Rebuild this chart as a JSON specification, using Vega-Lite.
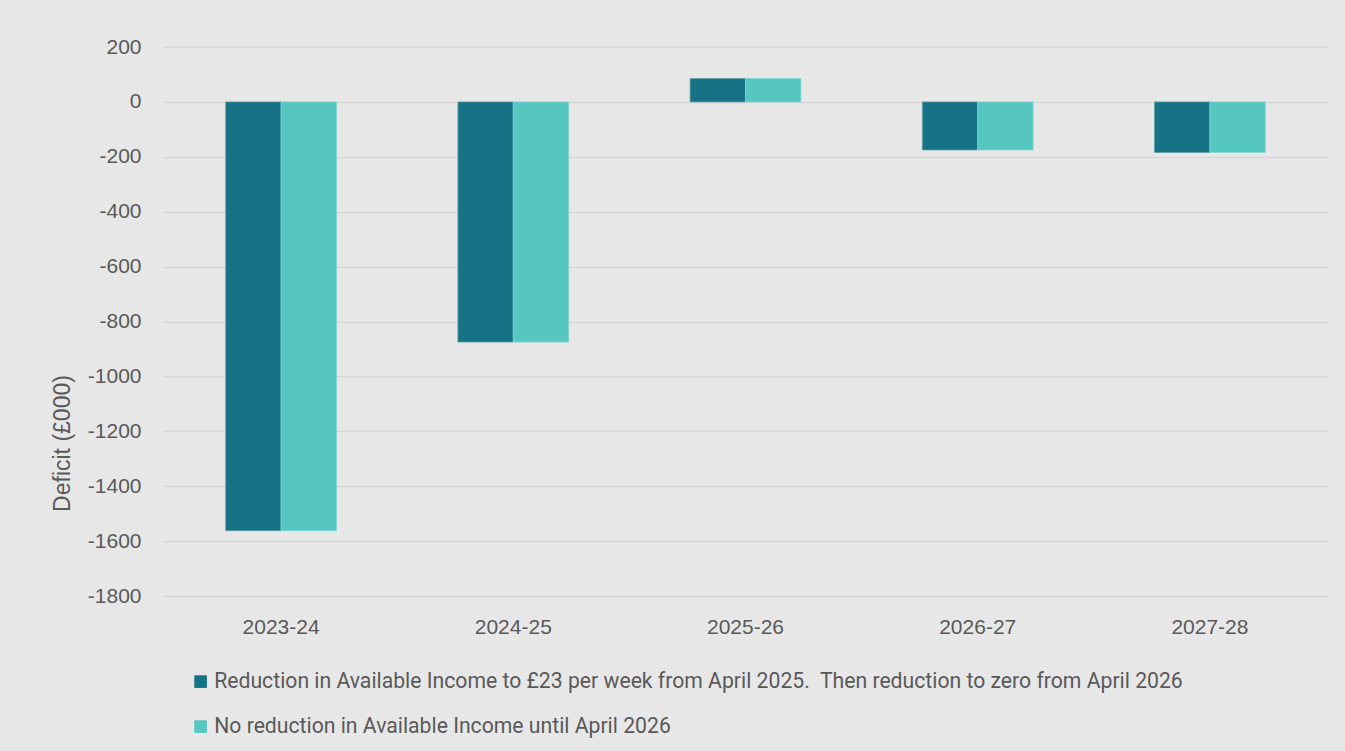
{
  "$schema": "https://vega.github.io/schema/vega-lite/v6.json",
  "width": 1165,
  "height": 549,
  "autosize": {"type": "none"},
  "padding": {"left": 163, "top": 47, "right": 17, "bottom": 155},
  "background": "#e7e7e7",
  "config": {
    "view": {"stroke": null},
    "font": "Liberation Sans"
  },
  "data": {
    "values": [
      {"year": "2023-24", "scenario": "Reduction in Available Income to £23 per week from April 2025.\u00a0 Then reduction to zero from April 2026", "deficit": -1562},
      {"year": "2023-24", "scenario": "No reduction in Available Income until April 2026", "deficit": -1562},
      {"year": "2024-25", "scenario": "Reduction in Available Income to £23 per week from April 2025.\u00a0 Then reduction to zero from April 2026", "deficit": -875},
      {"year": "2024-25", "scenario": "No reduction in Available Income until April 2026", "deficit": -875},
      {"year": "2025-26", "scenario": "Reduction in Available Income to £23 per week from April 2025.\u00a0 Then reduction to zero from April 2026", "deficit": 85},
      {"year": "2025-26", "scenario": "No reduction in Available Income until April 2026", "deficit": 85},
      {"year": "2026-27", "scenario": "Reduction in Available Income to £23 per week from April 2025.\u00a0 Then reduction to zero from April 2026", "deficit": -175},
      {"year": "2026-27", "scenario": "No reduction in Available Income until April 2026", "deficit": -175},
      {"year": "2027-28", "scenario": "Reduction in Available Income to £23 per week from April 2025.\u00a0 Then reduction to zero from April 2026", "deficit": -184},
      {"year": "2027-28", "scenario": "No reduction in Available Income until April 2026", "deficit": -184}
    ]
  },
  "mark": {"type": "bar", "strokeWidth": 0.8},
  "encoding": {
    "x": {
      "field": "year",
      "type": "nominal",
      "sort": null,
      "scale": {"paddingInner": 0.523, "paddingOuter": 0.27},
      "axis": {
        "title": null,
        "labelAngle": 0,
        "domain": false,
        "ticks": false,
        "labelFontSize": 21,
        "labelColor": "#595959",
        "labelPadding": 20
      }
    },
    "xOffset": {
      "field": "scenario",
      "type": "nominal",
      "sort": null
    },
    "y": {
      "field": "deficit",
      "type": "quantitative",
      "scale": {"domain": [-1800, 200], "nice": false, "zero": false},
      "axis": {
        "title": "Deficit (£000)",
        "titleFontSize": 23,
        "titleFontWeight": "normal",
        "titleColor": "#595959",
        "titleX": -101,
        "titleY": 396,
        "titleAngle": 270,
        "titleAlign": "center",
        "titleBaseline": "middle",
        "values": [200, 0, -200, -400, -600, -800, -1000, -1200, -1400, -1600, -1800],
        "labelExpr": "'' + datum.value",
        "labelFontSize": 21,
        "labelColor": "#595959",
        "labelPadding": 22,
        "domain": false,
        "ticks": false,
        "grid": true,
        "gridColor": "#d6d6d6",
        "gridWidth": 1.5
      }
    },
    "color": {
      "field": "scenario",
      "type": "nominal",
      "sort": null,
      "scale": {"range": ["#157385", "#56c6c0"]},
      "legend": {
        "title": null,
        "orient": "none",
        "legendX": 27,
        "legendY": 624,
        "direction": "vertical",
        "symbolType": "square",
        "symbolSize": 160,
        "symbolStrokeWidth": 0,
        "labelFont": "Roboto",
        "labelFontSize": 21.2,
        "labelColor": "#595959",
        "labelLimit": 1200,
        "rowPadding": 23,
        "labelOffset": 3
      }
    },
    "stroke": {
      "field": "scenario",
      "type": "nominal",
      "sort": null,
      "scale": {"range": ["#5f9ea8", "#7fd6d1"]},
      "legend": null
    }
  }
}
